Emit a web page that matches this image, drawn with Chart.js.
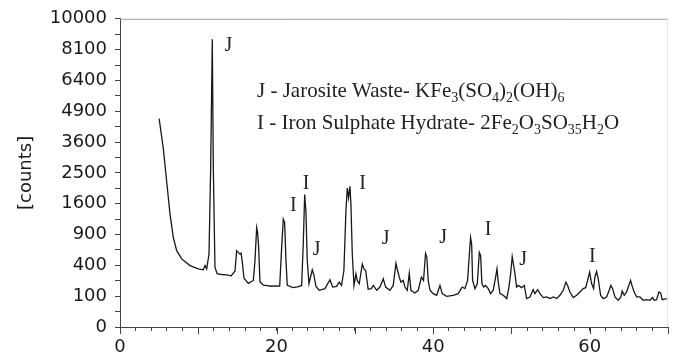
<!DOCTYPE html>
<html>
<head>
<meta charset="utf-8">
<script src="https://cdn.jsdelivr.net/npm/chart.js@4.4.1/dist/chart.umd.min.js"></script>
<style>
  html, body { margin: 0; padding: 0; background: #fff; }
</style>
</head>
<body>
<canvas id="grafica" width="678" height="363"></canvas>
<script>
// XRD pattern, counts (y axis is a square-root scale)
const twoTheta = [
  5.0, 5.53, 5.96, 6.39, 6.81, 7.24, 7.88, 8.94, 10.0, 10.64, 10.86, 11.07, 11.37, 11.58, 11.79, 11.92,
  12.13, 12.4, 13.0, 13.6, 14.2, 14.69, 14.9, 15.1, 15.33, 15.45, 15.6, 15.84, 16.39, 17.03, 17.24, 17.46,
  17.58, 17.71, 17.88, 18.3, 18.8, 19.3, 19.9, 20.4, 20.65, 20.86, 21.03, 21.2, 21.37, 22.1, 22.7, 23.2,
  23.41, 23.59, 23.75, 23.92, 24.14, 24.56, 24.78, 25.03, 25.45, 26.18, 26.82, 27.17, 27.67, 28.0, 28.3, 28.6,
  28.86, 29.03, 29.2, 29.37, 29.5, 29.67, 29.89, 30.14, 30.3, 30.56, 30.95, 31.16, 31.38, 31.7, 32.1, 32.35,
  32.8, 33.2, 33.63, 33.93, 34.48, 34.9, 35.25, 35.46, 35.67, 35.89, 36.18, 36.4, 36.7, 36.95, 37.16, 37.67,
  38.1, 38.5, 38.77, 39.03, 39.2, 39.37, 39.6, 40.0, 40.45, 40.87, 41.16, 41.72, 42.57, 43.2, 43.7, 44.06,
  44.4, 44.6, 44.78, 44.92, 45.04, 45.34, 45.64, 45.9, 46.07, 46.23, 46.45, 46.7, 47.04, 47.34, 47.68, 47.98,
  48.15, 48.32, 48.53, 48.96, 49.4, 49.68, 49.9, 50.1, 50.32, 50.45, 50.66, 50.87, 51.3, 51.64, 51.94, 52.36,
  52.78, 53.0, 53.35, 53.64, 54.07, 54.5, 54.92, 55.34, 55.77, 56.19, 56.62, 56.96, 57.18, 57.47, 57.9, 58.33,
  58.75, 59.17, 59.48, 59.73, 59.99, 60.25, 60.5, 60.66, 60.88, 61.09, 61.39, 61.73, 62.16, 62.49, 62.7, 62.93,
  63.22, 63.64, 63.98, 64.15, 64.41, 64.71, 65.0, 65.22, 65.43, 65.68, 65.99, 66.41, 66.83, 67.26, 67.69, 68.03,
  68.24, 68.54, 68.84, 69.06, 69.26, 69.83
];
const counts = [
  4570, 3360, 2235, 1337, 843, 613, 488, 397, 356, 344, 397, 356, 561, 2654, 8710, 2654,
  376, 300, 290, 285, 275, 330, 613, 586, 561, 586, 464, 250, 200, 228, 464, 1040,
  938, 667, 215, 185, 180, 175, 178, 176, 667, 1221, 1146, 464, 182, 163, 170, 182,
  724, 1849, 1415, 464, 197, 344, 280, 174, 142, 155, 235, 168, 174, 212, 182, 336,
  1415, 2035, 1756, 2085, 1582, 561, 182, 298, 228, 197, 419, 356, 336, 150, 155, 182,
  142, 168, 245, 168, 142, 182, 427, 336, 262, 212, 228, 168, 142, 305, 142, 122,
  142, 262, 228, 570, 511, 228, 142, 117, 106, 182, 117, 99, 106, 117, 168, 155,
  228, 511, 843, 724, 228, 155, 197, 586, 536, 197, 168, 182, 155, 117, 142, 262,
  356, 212, 117, 106, 85, 168, 298, 521, 376, 298, 168, 182, 163, 182, 85, 95,
  147, 117, 147, 117, 91, 95, 85, 95, 85, 106, 142, 212, 182, 129, 91, 106,
  129, 155, 163, 228, 316, 197, 155, 262, 324, 245, 106, 85, 95, 142, 182, 155,
  95, 75, 95, 136, 106, 129, 182, 228, 174, 129, 95, 95, 75, 79, 75, 91,
  75, 79, 129, 122, 79, 85
];

// tick labels
const yTickCounts = [0, 100, 400, 900, 1600, 2500, 3600, 4900, 6400, 8100, 10000];
const xTickLabels = [0, 20, 40, 60];
const xMajor = [0, 10, 20, 30, 40, 50, 60, 70];

// peak markers
const peakNames = ["J", "I", "I", "J", "I", "J", "J", "I", "J", "I"];
const peakTheta = [13.83, 22.13, 23.76, 25.12, 30.99, 33.93, 41.29, 47.03, 51.51, 60.32];
const peakCounts = [8320, 1538, 2153, 625, 2153, 812, 841, 1005, 475, 520];

// legend lines ("_" before digits = subscript)
const legendLines = [
  "J - Jarosite Waste- KFe_3(SO_4)_2(OH)_6",
  "I - Iron Sulphate Hydrate- 2Fe_2O_3SO_35H_2O"
];
const legendTheta = 17.5;
const legendCounts = [5565, 4135];

const punts = twoTheta.map((t, i) => ({ x: t, y: Math.sqrt(counts[i]) }));

function partsOf(str) {
  const out = [];
  const re = /_(\d+)|([^_]+)/g;
  let m;
  while ((m = re.exec(str)) !== null) {
    if (m[1]) out.push({ t: m[1], sub: true });
    else out.push({ t: m[2], sub: false });
  }
  return out;
}

const textes = {
  id: 'textes',
  afterDraw(chart) {
    const ctx = chart.ctx;
    const xs = chart.scales.x, ys = chart.scales.y;
    const a = chart.chartArea;
    ctx.save();
    // top / right frame
    ctx.lineWidth = 1;
    ctx.strokeStyle = '#a0a0a0';
    ctx.beginPath(); ctx.moveTo(a.left, a.top + 0.5); ctx.lineTo(a.right, a.top + 0.5); ctx.stroke();
    ctx.strokeStyle = '#e4e4e4';
    ctx.beginPath(); ctx.moveTo(a.right - 0.5, a.top); ctx.lineTo(a.right - 0.5, a.bottom); ctx.stroke();
    // longer major ticks on x
    ctx.strokeStyle = '#444';
    xMajor.forEach(v => {
      const px = Math.round(xs.getPixelForValue(v)) + 0.5;
      ctx.beginPath(); ctx.moveTo(px, a.bottom); ctx.lineTo(px, a.bottom + 7); ctx.stroke();
    });
    // peak letters
    ctx.fillStyle = '#222';
    ctx.font = '20px "Liberation Serif"';
    ctx.textAlign = 'center';
    ctx.textBaseline = 'middle';
    peakNames.forEach((n, i) => {
      ctx.fillText(n, xs.getPixelForValue(peakTheta[i]), ys.getPixelForValue(Math.sqrt(peakCounts[i])));
    });
    // legend
    ctx.textAlign = 'left';
    ctx.textBaseline = 'alphabetic';
    legendLines.forEach((line, i) => {
      let x = xs.getPixelForValue(legendTheta);
      const y = ys.getPixelForValue(Math.sqrt(legendCounts[i]));
      partsOf(line).forEach(p => {
        ctx.font = p.sub ? '14px "Liberation Serif"' : '21px "Liberation Serif"';
        ctx.fillText(p.t, x, p.sub ? y + 5 : y);
        x += ctx.measureText(p.t).width;
      });
    });
    ctx.restore();
  }
};

const config = {
  type: 'line',
  data: {
    datasets: [{
      data: punts,
      borderColor: '#181818',
      borderWidth: 1.3,
      pointRadius: 0,
      tension: 0,
      fill: false
    }]
  },
  options: {
    responsive: false,
    animation: false,
    devicePixelRatio: 1,
    layout: { padding: { top: 16, right: 10, left: 0, bottom: 0 } },
    plugins: { legend: { display: false }, tooltip: { enabled: false } },
    scales: {
      x: {
        type: 'linear',
        min: 0, max: 70,
        afterFit: s => { s.height = 36; },
        ticks: {
          stepSize: 2,
          autoSkip: false,
          maxRotation: 0,
          padding: 6,
          color: '#1a1a1a',
          font: { family: 'DejaVu Sans', size: 18 },
          callback: v => xTickLabels.includes(v) ? String(v) : ''
        },
        grid: { drawOnChartArea: false, tickLength: 4, color: '#444' },
        border: { color: '#444', width: 1 }
      },
      y: {
        type: 'linear',
        min: 0, max: 100,
        afterFit: s => { s.width = 120; },
        title: {
          display: true,
          text: '[counts]',
          color: '#1a1a1a',
          font: { family: 'DejaVu Sans', size: 18 },
          padding: { top: 16, bottom: 0 }
        },
        ticks: {
          stepSize: 5,
          autoSkip: false,
          padding: 8,
          color: '#1a1a1a',
          font: { family: 'DejaVu Sans', size: 18 },
          callback: v => yTickCounts.includes(v * v) && v % 10 === 0 ? String(v * v) : ''
        },
        grid: { drawOnChartArea: false, tickLength: 5, color: '#444' },
        border: { color: '#444', width: 1 }
      }
    }
  },
  plugins: [textes]
};

const grafica = document.getElementById('grafica');
let myChart = new Chart(grafica, config);
</script>
</body>
</html>
